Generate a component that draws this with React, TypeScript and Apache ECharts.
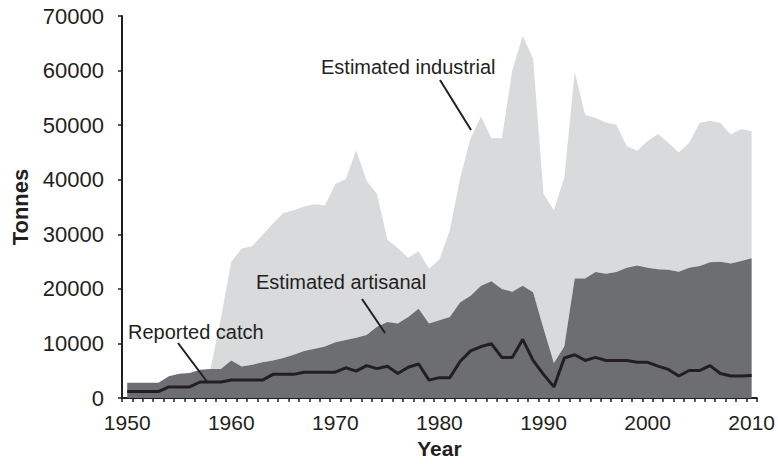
import React, { useEffect, useRef } from "react";
import * as echarts from "echarts";

const years: string[] = [];
for (let y = 1950; y <= 2010; y++) years.push(String(y));

const artisanal = [
  2800, 2800, 2800, 2800, 4000, 4450, 4600, 5200, 5350, 5350,
  6900, 5800, 6100, 6550, 6900, 7350, 7950, 8650, 9050, 9450,
  10250, 10650, 11050, 11550, 13050, 13950, 13650, 14850, 16350, 13650,
  14250, 14850, 17550, 18750, 20600, 21400, 20000, 19500, 20600, 19400,
  12750, 6450, 9450, 21900, 21900, 23100, 22800, 23100, 23900, 24300,
  23900, 23600, 23500, 23150, 23900, 24200, 24900, 25000, 24650, 25100,
  25600,
];

const industrial = [
  0, 0, 0, 0, 0, 0, 0, 0, 0, 9250,
  18100, 21600, 21700, 23350, 25100, 26550, 26450, 26450, 26450, 25850,
  28950, 29450, 34350, 28250, 24350, 15050, 13850, 10850, 10550, 10050,
  11150, 15950, 22850, 28850, 31000, 26200, 27600, 40500, 45800, 42700,
  24650, 27950, 30950, 37800, 30000, 28200, 27700, 27000, 22300, 21000,
  23200, 24800, 23300, 21850, 22900, 26200, 25900, 25400, 23650, 24200,
  23300,
];

const reported = [
  1200, 1200, 1200, 1200, 2050, 2050, 2050, 2950, 2950, 2950,
  3300, 3300, 3300, 3300, 4350, 4350, 4350, 4750, 4750, 4750,
  4750, 5550, 4950, 5950, 5400, 5850, 4500, 5650, 6250, 3300,
  3750, 3750, 6750, 8650, 9450, 9950, 7450, 7450, 10750, 6900,
  4350, 2050, 7350, 7950, 6900, 7450, 6900, 6900, 6900, 6550,
  6550, 5850, 5250, 4050, 5050, 5050, 5950, 4500, 4050, 4050,
  4150,
];

const yTicks = { min: 0, max: 70000, interval: 10000 };

const FONT = "'Liberation Sans', Arial, Helvetica, sans-serif";
const INK = "#231f20";
const LIGHT = "#d9dadc";
const DARK = "#6d6e71";

export default function App() {
  const ref = useRef<HTMLDivElement>(null);
  useEffect(() => {
    document.body.style.margin = "0";
    const chart = echarts.init(ref.current!, undefined, { renderer: "svg" });
    chart.setOption({
      animation: false,
      backgroundColor: "#ffffff",
      textStyle: { fontFamily: FONT, color: INK },
      grid: { left: 122, right: 21, top: 16, bottom: 60 },
      xAxis: {
        type: "category",
        data: years,
        boundaryGap: true,
        name: "Year",
        nameLocation: "middle",
        nameGap: 38,
        nameTextStyle: { fontFamily: FONT, fontSize: 21, fontWeight: "bold", color: INK },
        axisLine: { show: true, lineStyle: { color: INK, width: 2 } },
        axisTick: { show: true, interval: 0, length: 4, lineStyle: { color: INK, width: 1.5 } },
        axisLabel: {
          interval: (idx: number) => idx % 10 === 0,
          fontFamily: FONT,
          fontSize: 21,
          color: INK,
          margin: 14,
        },
        splitLine: { show: false },
      },
      yAxis: {
        type: "value",
        min: yTicks.min,
        max: yTicks.max,
        interval: yTicks.interval,
        name: "Tonnes",
        nameLocation: "middle",
        nameGap: 88,
        nameTextStyle: { fontFamily: FONT, fontSize: 22, fontWeight: "bold", color: INK },
        axisLine: { show: true, lineStyle: { color: INK, width: 2 } },
        axisTick: { show: true, length: 4, lineStyle: { color: INK, width: 1.5 } },
        axisLabel: {
          fontFamily: FONT,
          fontSize: 22,
          color: INK,
          margin: 18,
          formatter: (v: number) => String(v),
        },
        splitLine: { show: false },
      },
      series: [
        {
          name: "Estimated artisanal",
          type: "line",
          stack: "total",
          data: artisanal,
          symbol: "none",
          lineStyle: { width: 0 },
          areaStyle: { color: DARK, opacity: 1 },
          z: 2,
        },
        {
          name: "Estimated industrial",
          type: "line",
          stack: "total",
          data: industrial,
          symbol: "none",
          lineStyle: { width: 0 },
          areaStyle: { color: LIGHT, opacity: 1 },
          z: 1,
        },
        {
          name: "Reported catch",
          type: "line",
          data: reported,
          symbol: "none",
          lineStyle: { width: 3, color: INK },
          z: 3,
        },
      ],
      graphic: {
        elements: [
          { type: "text", z: 100, left: 321, top: 57, style: { text: "Estimated industrial", font: `20px ${FONT}`, fill: INK } },
          { type: "line", z: 100, shape: { x1: 440, y1: 80, x2: 471, y2: 130 }, style: { stroke: INK, lineWidth: 2 } },
          { type: "text", z: 100, left: 256, top: 272, style: { text: "Estimated artisanal", font: `20px ${FONT}`, fill: INK } },
          { type: "line", z: 100, shape: { x1: 362, y1: 299, x2: 385, y2: 333 }, style: { stroke: INK, lineWidth: 2 } },
          { type: "text", z: 100, left: 128, top: 322, style: { text: "Reported catch", font: `20px ${FONT}`, fill: INK } },
          { type: "line", z: 100, shape: { x1: 178, y1: 343, x2: 208, y2: 383 }, style: { stroke: INK, lineWidth: 2 } },
        ],
      },
    });
    return () => chart.dispose();
  }, []);
  return <div ref={ref} style={{ width: 778, height: 464 }} />;
}
